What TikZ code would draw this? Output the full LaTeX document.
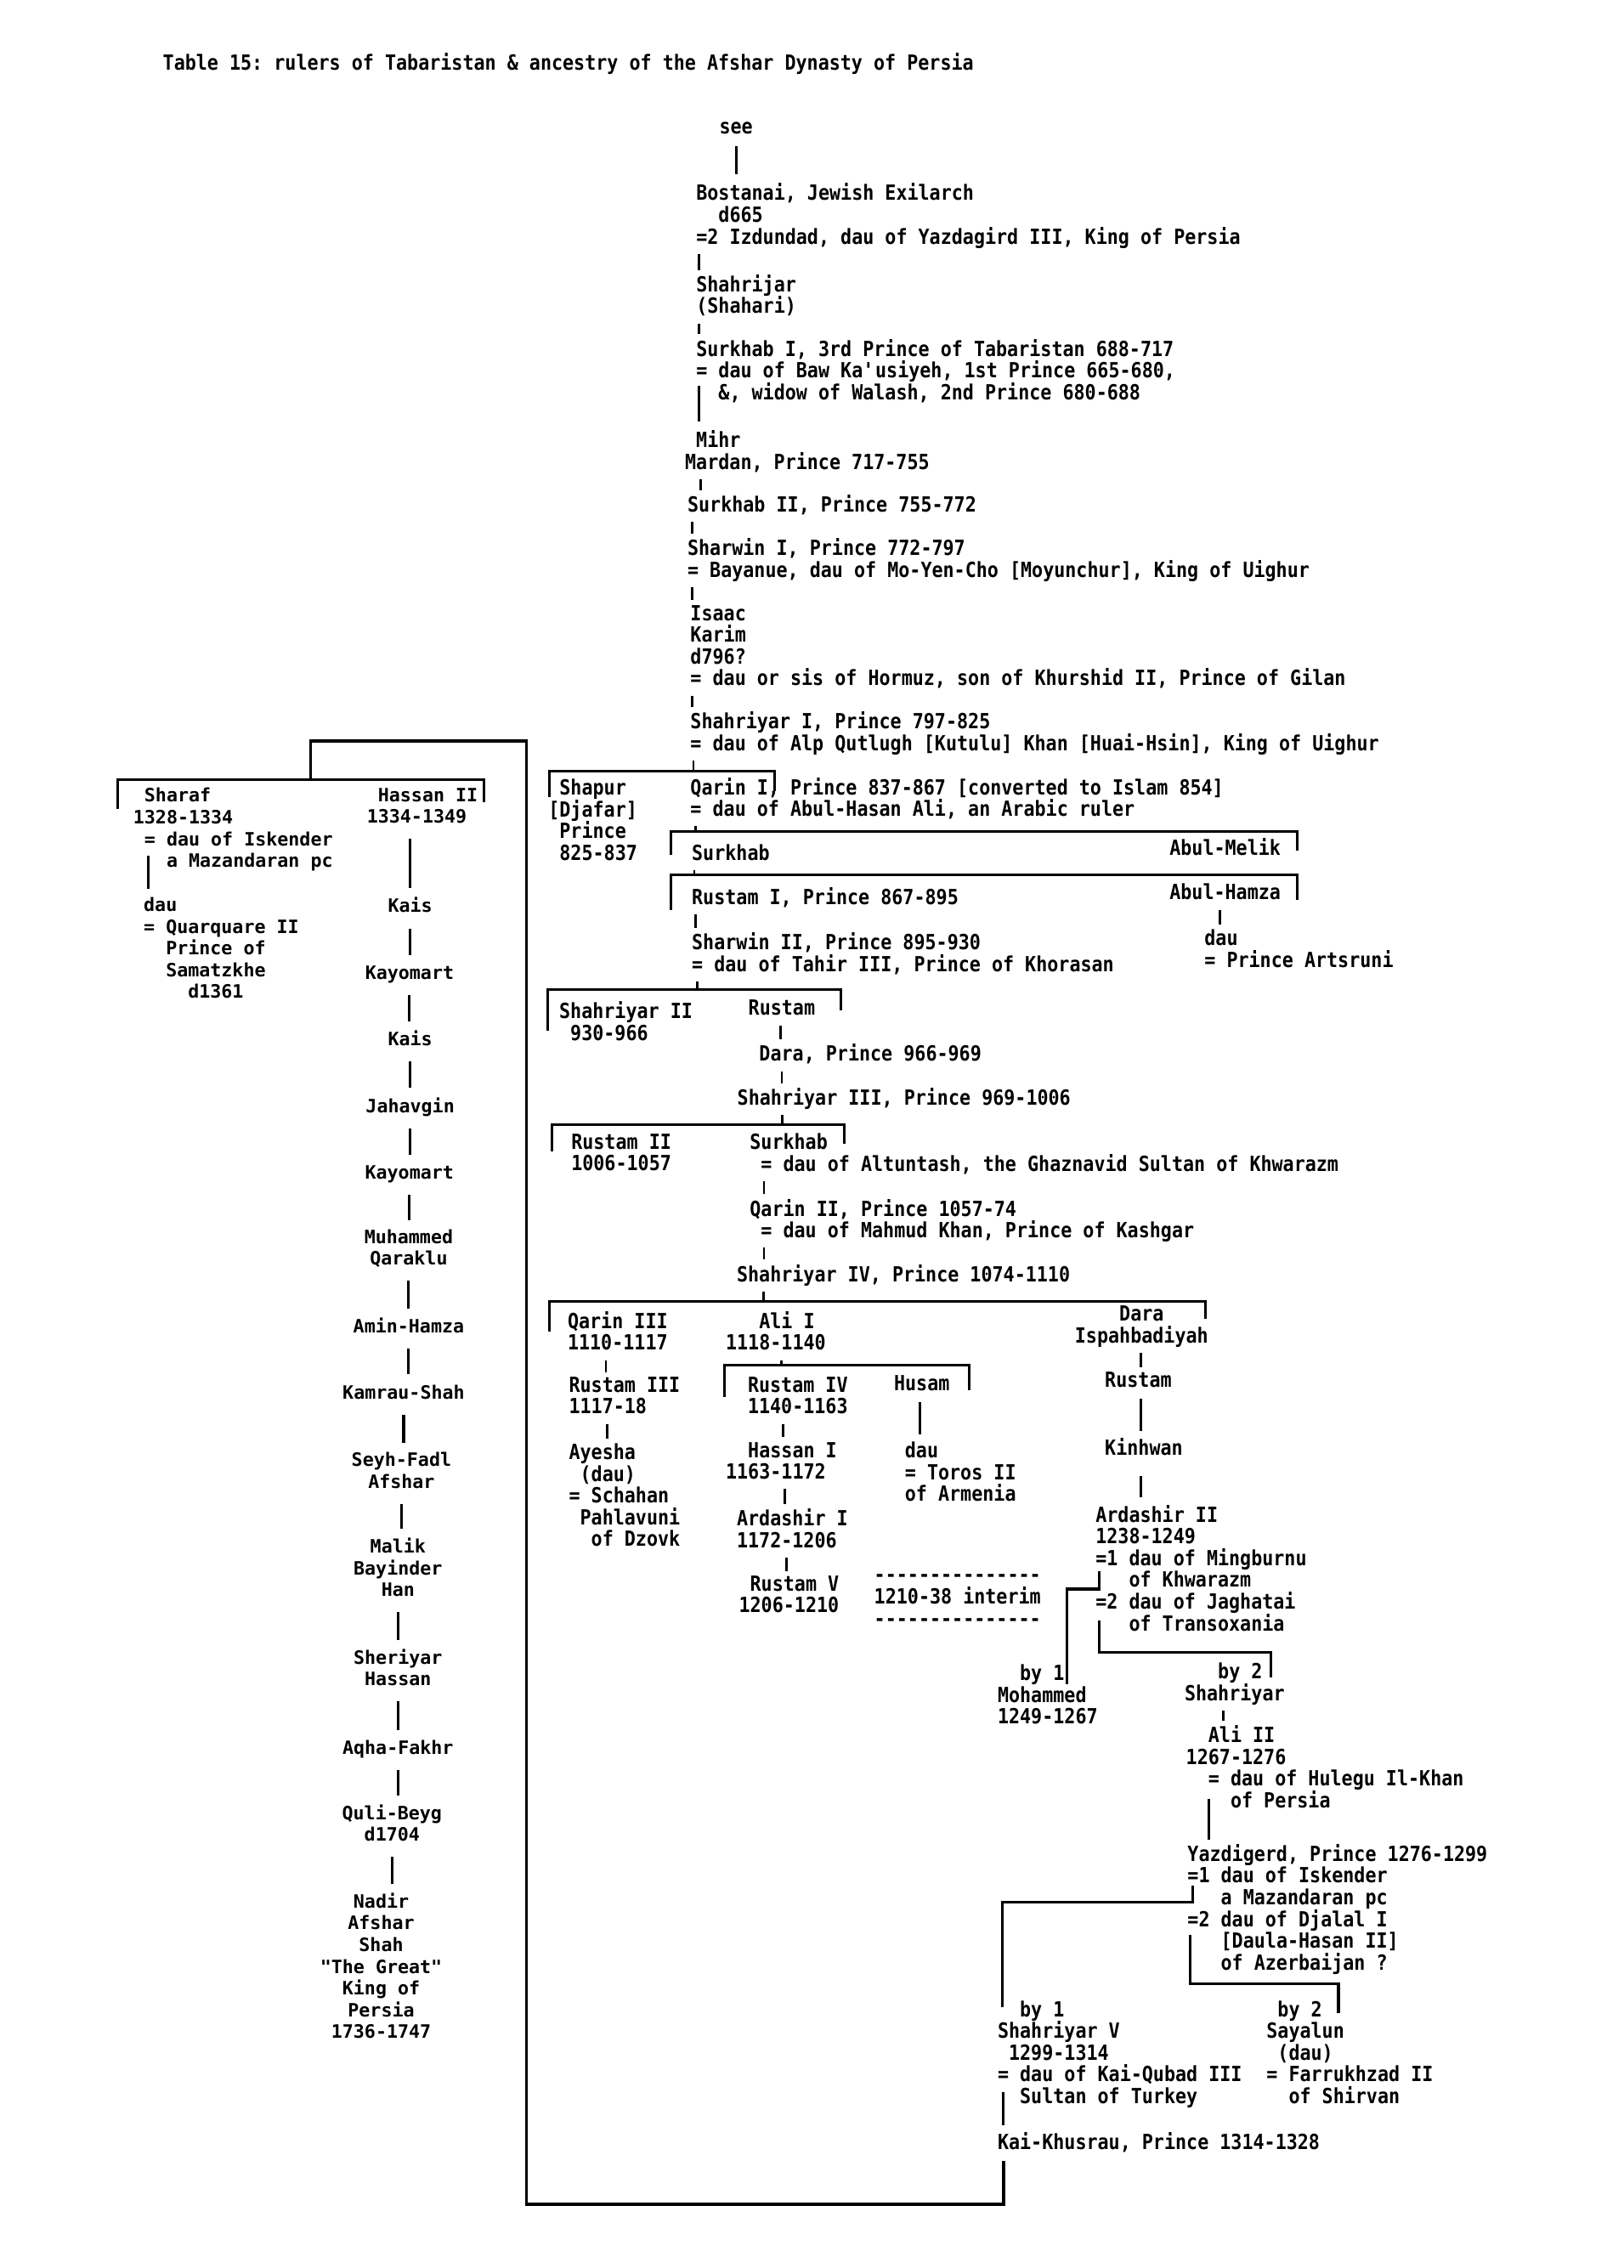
\documentclass[tikz,border=0pt]{standalone}
\usepackage{fontspec}
\newfontfamily\tabfont[FakeStretch=0.884]{DejaVu Sans Mono}
\newfontfamily\genfont{DejaVu Sans Mono}
\newcommand\pad[1]{\hphantom{\ifcase#1\or0\or00\or000\or0000\fi}}
\begin{document}
\begin{tikzpicture}[x=0.5pt,y=-0.5pt,
  ruler/.style={anchor=north west,inner sep=0pt,align=left,yshift=2.9pt,
    font=\tabfont\bfseries\fontsize{7.2}{7.5}\selectfont\frenchspacing,
    execute at begin node=\strut,execute at end node=\strut},
  kin/.style={anchor=north,inner sep=0pt,align=center,yshift=3.1pt,
    font=\genfont\bfseries\fontsize{6.35}{7.5}\selectfont\frenchspacing,
    execute at begin node=\strut,execute at end node=\strut},
  kinl/.style={kin,anchor=north west,align=left},
  link/.style={line width=0.9pt},
  tick/.style={line width=0.8pt,shorten <=1pt,shorten >=1.5pt},
  stem/.style={line width=0.8pt,shorten <=1pt},
  riser/.style={link,shorten <=3pt,shorten >=3pt}]
\fill[white] (0,0) rectangle (1120,1565);
\useasboundingbox (0,0) rectangle (1120,1565);

\node[ruler] (title) at (112,42) {Table 15: rulers of Tabaristan \& ancestry of the Afshar Dynasty of Persia};

% main line of the princes
\node[ruler] (see) at (496,87) {see};
\node[ruler] (bostanai) at (480,132) {Bostanai, Jewish Exilarch\\\pad{2}d665\\=2 Izdundad, dau of Yazdagird III, King of Persia};
\node[ruler] (shahrijar) at (480,195) {Shahrijar\\(Shahari)};
\node[ruler] (surkhabI) at (480,239.5) {Surkhab I, 3rd Prince of Tabaristan 688-717\\= dau of Baw Ka\textquotesingle usiyeh, 1st Prince 665-680,\\\pad{2}\&, widow of Walash, 2nd Prince 680-688};
\node[ruler] (mihr) at (472.3,302.6) {\pad{1}Mihr\\Mardan, Prince 717-755};
\node[ruler] (surkhabII) at (474,347) {Surkhab II, Prince 755-772};
\node[ruler] (sharwinI) at (474,377) {Sharwin I, Prince 772-797\\= Bayanue, dau of Mo-Yen-Cho [Moyunchur], King of Uighur};
\node[ruler] (isaac) at (476,423) {Isaac\\Karim\\d796?\\= dau or sis of Hormuz, son of Khurshid II, Prince of Gilan};
\node[ruler] (shahriyarI) at (476,496.5) {Shahriyar I, Prince 797-825\\= dau of Alp Qutlugh [Kutulu] Khan [Huai-Hsin], King of Uighur};
\node[ruler] (shapur) at (378,543) {\pad{1}Shapur\\{}[Djafar]\\\pad{1}Prince\\\pad{1}825-837};
\node[ruler] (qarinI) at (476,542) {Qarin I, Prince 837-867 [converted to Islam 854]\\= dau of Abul-Hasan Ali, an Arabic ruler};
\node[ruler] (surkhabB) at (477,588) {Surkhab};
\node[ruler] (abulmelik) at (806.6,584) {Abul-Melik};
\node[ruler] (rustamI) at (477,617.6) {Rustam I, Prince 867-895};
\node[ruler] (abulhamza) at (806.6,615.3) {Abul-Hamza};
\node[ruler] (artsruni) at (830.7,647) {dau\\= Prince Artsruni};
\node[ruler] (sharwinII) at (477,649) {Sharwin II, Prince 895-930\\= dau of Tahir III, Prince of Khorasan};
\node[ruler] (shahriyarII) at (385.5,696.5) {Shahriyar II\\\pad{1}930-966};
\node[ruler] (rustamB) at (516,695.5) {Rustam};
\node[ruler] (dara) at (523.5,726) {Dara, Prince 966-969};
\node[ruler] (shahriyarIII) at (508.4,756.3) {Shahriyar III, Prince 969-1006};
\node[ruler] (rustamII) at (393.8,787.7) {Rustam II\\1006-1057};
\node[ruler] (surkhabC) at (517,787.7) {Surkhab\\\pad{1}= dau of Altuntash, the Ghaznavid Sultan of Khwarazm};
\node[ruler] (qarinII) at (517,832.8) {Qarin II, Prince 1057-74\\\pad{1}= dau of Mahmud Khan, Prince of Kashgar};
\node[ruler] (shahriyarIV) at (508,878) {Shahriyar IV, Prince 1074-1110};
\node[ruler] (qarinIII) at (391.3,910.4) {Qarin III\\1110-1117};
\node[ruler] (aliI) at (500.4,910.4) {\pad{3}Ali I\\1118-1140};
\node[ruler] (daraB) at (741.3,906.4) {\pad{4}Dara\\Ispahbadiyah};
\node[ruler] (rustamIII) at (392.2,955.5) {Rustam III\\1117-18};
\node[ruler] (ayesha) at (392.2,1001.5) {Ayesha\\\pad{1}(dau)\\= Schahan\\\pad{1}Pahlavuni\\\pad{2}of Dzovk};
\node[ruler] (rustamIV) at (515.6,955.5) {Rustam IV\\1140-1163};
\node[ruler] (husam) at (616.5,954.5) {Husam};
\node[ruler] (toros) at (624,1000.5) {dau\\= Toros II\\of Armenia};
\node[ruler] (hassanI) at (500.4,1000.5) {\pad{2}Hassan I\\1163-1172};
\node[ruler] (ardashirI) at (508,1046.6) {Ardashir I\\1172-1206};
\node[ruler] (rustamV) at (509.5,1092.7) {\pad{1}Rustam V\\1206-1210};
\node[ruler] (interim) at (602.8,1092) {‐‐‐‐‐‐‐‐‐‐‐‐‐‐‐\\1210-38 interim\\‐‐‐‐‐‐‐‐‐‐‐‐‐‐‐};
\node[ruler] (rustamC) at (762,952) {Rustam};
\node[ruler] (kinhwan) at (762,998) {Kinhwan};
\node[ruler] (ardashirII) at (755.6,1044) {Ardashir II\\1238-1249\\=1 dau of Mingburnu\\\pad{3}of Khwarazm\\=2 dau of Jaghatai\\\pad{3}of Transoxania};
\node[ruler] (mohammed) at (688,1154) {\pad{2}by 1\\Mohammed\\1249-1267};
\node[ruler] (shahriyarB) at (817,1153) {\pad{3}by 2\\Shahriyar};
\node[ruler] (aliII) at (818,1196) {\pad{2}Ali II\\1267-1276\\\pad{2}= dau of Hulegu Il-Khan\\\pad{4}of Persia};
\node[ruler] (yazdigerd) at (819,1278) {Yazdigerd, Prince 1276-1299\\=1 dau of Iskender\\\pad{3}a Mazandaran pc\\=2 dau of Djalal I\\\pad{3}[Daula-Hasan II]\\\pad{3}of Azerbaijan ?};
\node[ruler] (shahriyarV) at (688,1386) {\pad{2}by 1\\Shahriyar V\\\pad{1}1299-1314\\= dau of Kai-Qubad III\\\pad{2}Sultan of Turkey};
\node[ruler] (sayalun) at (873.5,1386) {\pad{1}by 2\\Sayalun\\\pad{1}(dau)\\= Farrukhzad II\\\pad{2}of Shirvan};
\node[ruler] (kaikhusrau) at (688,1477) {Kai-Khusrau, Prince 1314-1328};

% Afshar ancestry, left column
\node[kinl] (sharaf) at (91.6,549.6) {\pad{1}Sharaf\\1328-1334\\\pad{1}= dau of Iskender\\\pad{3}a Mazandaran pc};
\node[kinl] (dauQ) at (98.8,625) {dau\\= Quarquare II\\\pad{2}Prince of\\\pad{2}Samatzkhe\\\pad{4}d1361};
\node[kinl] (hassanII) at (252.8,549.6) {\pad{1}Hassan II\\1334-1349};
\node[kin] (kaisA) at (283,625) {Kais};
\node[kin] (kayomartA) at (282.6,671) {Kayomart};
\node[kin] (kaisB) at (283,717) {Kais};
\node[kin] (jahavgin) at (283,763) {Jahavgin};
\node[kin] (kayomartB) at (282.5,809) {Kayomart};
\node[kin] (muhammed) at (282,854) {Muhammed\\Qaraklu};
\node[kin] (aminhamza) at (282,915) {Amin-Hamza};
\node[kin] (kamrau) at (278.5,960.6) {Kamrau-Shah};
\node[kin] (seyh) at (277,1008) {Seyh-Fadl\\Afshar};
\node[kin] (malik) at (274.6,1067) {Malik\\Bayinder\\Han};
\node[kin] (sheriyar) at (274.6,1143.6) {Sheriyar\\Hassan};
\node[kin] (aqha) at (274.6,1206) {Aqha-Fakhr};
\node[kin] (quli) at (270.5,1251) {Quli-Beyg\\d1704};
\node[kin] (nadir) at (263,1312) {Nadir\\Afshar\\Shah\\\textquotedbl The Great\textquotedbl\\King of\\Persia\\1736-1747};

% brackets over brothers
\coordinate (b1l) at (379,532); \coordinate (b1r) at (534.5,532); \coordinate (b1s) at (478.4,532);
\coordinate (b2l) at (463,574); \coordinate (b2r) at (895,574); \coordinate (b2s) at (480,574);
\coordinate (b3l) at (463,603.5); \coordinate (b3r) at (895,603.5); \coordinate (b3s) at (479,603.5);
\coordinate (b4l) at (378,683); \coordinate (b4r) at (580,683); \coordinate (b4s) at (481,683);
\coordinate (b5l) at (380.6,776); \coordinate (b5r) at (582.5,776); \coordinate (b5s) at (539.6,776);
\coordinate (b6l) at (379.2,898); \coordinate (b6r) at (832,898); \coordinate (b6s) at (527,898);
\coordinate (b7l) at (499.8,942); \coordinate (b7r) at (668.6,942); \coordinate (b7s) at (539,942);
\coordinate (b8l) at (81.2,538.2); \coordinate (b8r) at (334,538.2); \coordinate (b8s) at (214.5,538.2);
\draw[link] ([yshift=-9pt]b1l) -- (b1l) -- (b1r) -- ([yshift=-7pt]b1r);
\draw[link] ([yshift=-8pt]b2l) -- (b2l) -- (b2r) -- ([yshift=-6.5pt]b2r);
\draw[link] ([yshift=-12.25pt]b3l) -- (b3l) -- (b3r) -- ([yshift=-8.75pt]b3r);
\draw[link] ([yshift=-14pt]b4l) -- (b4l) -- (b4r) -- ([yshift=-7pt]b4r);
\draw[link] ([yshift=-9.25pt]b5l) -- (b5l) -- (b5r) -- ([yshift=-6.5pt]b5r);
\draw[link] ([yshift=-10.5pt]b6l) -- (b6l) -- (b6r) -- ([yshift=-6pt]b6r);
\draw[link] ([yshift=-11pt]b7l) -- (b7l) -- (b7r) -- ([yshift=-8.7pt]b7r);
\draw[link] ([yshift=-10pt]b8l) -- (b8l) -- (b8r) -- ([yshift=-7.6pt]b8r);
\draw[stem] (shahriyarI.south -| b1s) -- (b1s);
\draw[stem] (qarinI.south -| b2s) -- (b2s);
\draw[stem] (surkhabB.south -| b3s) -- (b3s);
\draw[stem] (sharwinII.south -| b4s) -- (b4s);
\draw[stem] (shahriyarIII.south -| b5s) -- (b5s);
\draw[stem] (shahriyarIV.south -| b6s) -- (b6s);
\draw[stem] (aliI.south -| b7s) -- (b7s);

% descent, main line
\draw[link,shorten <=2pt,shorten >=3pt] (see.south) -- (see.south |- bostanai.north);
\draw[tick] ([xshift=1.2pt]bostanai.south west) -- ([xshift=1.2pt]bostanai.south west |- shahrijar.north);
\draw[tick] ([xshift=1.2pt]shahrijar.south west) -- ([xshift=1.2pt]shahrijar.south west |- surkhabI.north);
\draw[link,shorten >=3pt] ([xshift=1.2pt,yshift=7.3pt]surkhabI.south west) -- ([xshift=1.2pt]surkhabI.south west |- mihr.north);
\draw[tick] ([xshift=5.5pt]mihr.south west) -- ([xshift=5.5pt]mihr.south west |- surkhabII.north);
\draw[tick] ([xshift=1.7pt]surkhabII.south west) -- ([xshift=1.7pt]surkhabII.south west |- sharwinI.north);
\draw[tick] ([xshift=1.7pt]sharwinI.south west) -- ([xshift=1.7pt]sharwinI.south west |- isaac.north);
\draw[tick] ([xshift=0.7pt]isaac.south west) -- ([xshift=0.7pt]isaac.south west |- shahriyarI.north);
\draw[tick] ([xshift=17.5pt]abulhamza.south west) -- ([xshift=17.5pt]abulhamza.south west |- artsruni.north);
\draw[tick] ([xshift=1.5pt]rustamI.south west) -- ([xshift=1.5pt]rustamI.south west |- sharwinII.north);
\draw[tick] ([xshift=11.25pt]rustamB.south west) -- ([xshift=11.25pt]rustamB.south west |- dara.north);
\draw[tick] ([xshift=8pt]dara.south west) -- ([xshift=8pt]dara.south west |- shahriyarIII.north);
\draw[tick] ([xshift=5.1pt]surkhabC.south west) -- ([xshift=5.1pt]surkhabC.south west |- qarinII.north);
\draw[tick] ([xshift=5.1pt]qarinII.south west) -- ([xshift=5.1pt]qarinII.south west |- shahriyarIV.north);
\draw[tick] ([xshift=13.35pt]qarinIII.south west) -- ([xshift=13.35pt]qarinIII.south west |- rustamIII.north);
\draw[tick] ([xshift=13.4pt]rustamIII.south west) -- ([xshift=13.4pt]rustamIII.south west |- ayesha.north);
\draw[link,shorten <=1.5pt,shorten >=2.5pt] ([xshift=9.1pt]husam.south west) -- ([xshift=9.1pt]husam.south west |- toros.north);
\draw[tick] ([xshift=12.4pt]rustamIV.south west) -- ([xshift=12.4pt]rustamIV.south west |- hassanI.north);
\draw[tick] ([xshift=20.6pt]hassanI.south west) -- ([xshift=20.6pt]hassanI.south west |- ardashirI.north);
\draw[tick] ([xshift=17.4pt]ardashirI.south west) -- ([xshift=17.4pt]ardashirI.south west |- rustamV.north);
\draw[tick] ([xshift=22.85pt]daraB.south west) -- ([xshift=22.85pt]daraB.south west |- rustamC.north);
\draw[link,shorten <=1.5pt,shorten >=2.5pt] ([xshift=12.5pt]rustamC.south west) -- ([xshift=12.5pt]rustamC.south west |- kinhwan.north);
\draw[link,shorten <=4.5pt,shorten >=2.5pt] ([xshift=12.5pt]kinhwan.south west) -- ([xshift=12.5pt]kinhwan.south west |- ardashirII.north);
\draw[link] ([xshift=1.55pt,yshift=-22.9pt]ardashirII.north west) -- ++(0,12.5) -| ([xshift=24pt,yshift=-7pt]mohammed.north west); % by 1
\draw[link] ([xshift=1.3pt,yshift=-39.9pt]ardashirII.north west) -- ++(0,22) -| ([xshift=30pt,yshift=-5pt]shahriyarB.north west); % by 2
\draw[tick] ([xshift=13.5pt]shahriyarB.south west) -- ([xshift=13.5pt]shahriyarB.south west |- aliII.north);
\draw[link,shorten >=1.5pt] ([xshift=8pt,yshift=5.5pt]aliII.south west) -- ([xshift=8pt]aliII.south west |- yazdigerd.north);
\draw[link] ([xshift=2pt,yshift=-14.6pt]yazdigerd.north west) -- ++(0,11.2) -| ([xshift=1.7pt,yshift=-2.4pt]shahriyarV.north west); % by 1
\draw[link] ([xshift=1pt,yshift=-31.4pt]yazdigerd.north west) -- ++(0,34) -| ([xshift=25pt,yshift=-4.4pt]sayalun.north west); % by 2
\draw[link,shorten >=2.5pt] ([xshift=2pt,yshift=6.5pt]shahriyarV.south west) -- ([xshift=2pt]shahriyarV.south west |- kaikhusrau.north);

% from Kai-Khusrau back up to his sons
\coordinate (loopB) at (692.5,1521);
\coordinate (loopT) at (363,511.3);
\draw[link,shorten <=1.5pt] (kaikhusrau.south -| loopB) -- (loopB) -| (loopT) -| (b8s);

% descent, left column
\draw[link,shorten >=2.75pt] ([xshift=5.4pt,yshift=6.35pt]sharaf.south west) -- ([xshift=5.4pt]sharaf.south west |- dauQ.north);
\draw[riser] (kaisA.north |- hassanII.south) -- (kaisA.north);
\draw[riser] (kaisA.south) -- (kaisA.south |- kayomartA.north);
\draw[riser] (kayomartA.south) -- (kayomartA.south |- kaisB.north);
\draw[riser] (kaisB.south) -- (kaisB.south |- jahavgin.north);
\draw[riser] (jahavgin.south) -- (jahavgin.south |- kayomartB.north);
\draw[riser] (kayomartB.south) -- (kayomartB.south |- muhammed.north);
\draw[riser] (muhammed.south) -- (muhammed.south |- aminhamza.north);
\draw[riser] (aminhamza.south) -- (aminhamza.south |- kamrau.north);
\draw[riser] (kamrau.south) -- (kamrau.south |- seyh.north);
\draw[riser] (seyh.south) -- (seyh.south |- malik.north);
\draw[riser] (malik.south) -- (malik.south |- sheriyar.north);
\draw[riser] (sheriyar.south) -- (sheriyar.south |- aqha.north);
\draw[riser] (aqha.south) -- (aqha.south |- quli.north);
\draw[riser] (quli.south) -- (quli.south |- nadir.north);
\end{tikzpicture}
\end{document}
